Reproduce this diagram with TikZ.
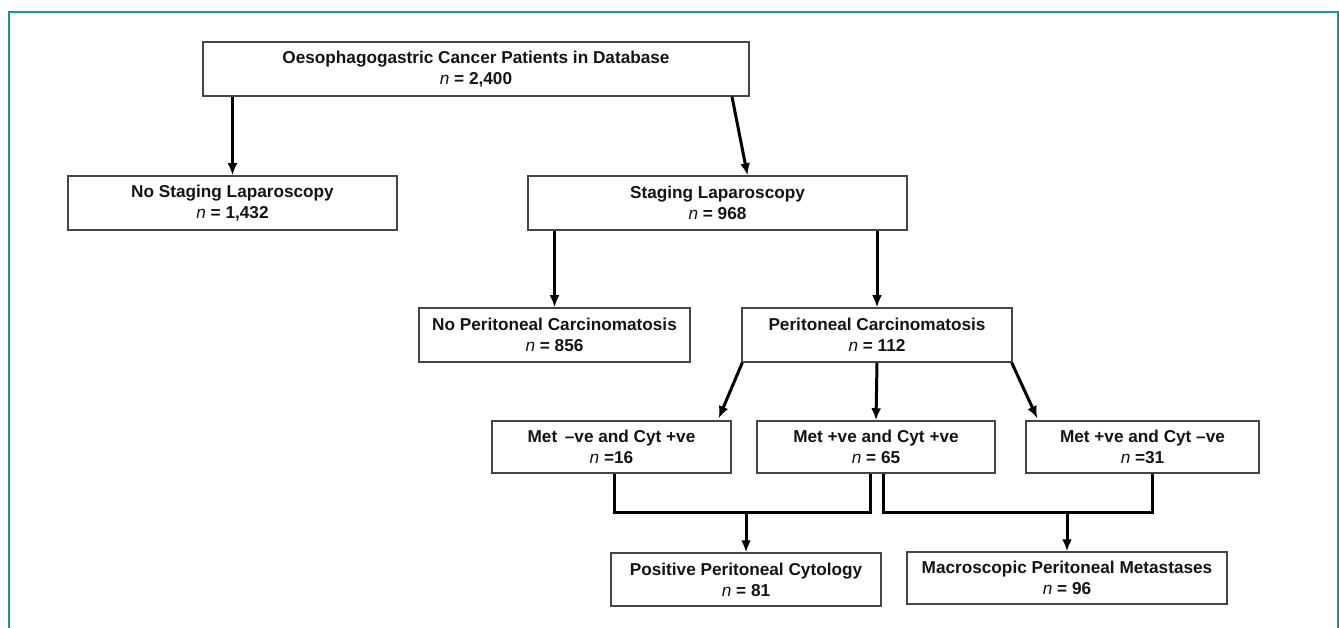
\documentclass[tikz,border=0pt]{standalone}
\usepackage{fontspec}
\setmainfont{Liberation Sans}
\usetikzlibrary{arrows.meta}
\usetikzlibrary{calc}
\tikzset{box/.style = {draw=mgrey, line width=1.5pt, fill=white, align=center,
                       inner sep=0, text=mink,
                       font=\bfseries\fontsize{17.2}{21}\selectfont}}
\tikzset{link/.style = {line width=3pt, line join=miter}}
\tikzset{arr/.style = {link, -{Latex[length=12pt, width=10pt]}}}
\definecolor{mteal}{rgb}{0.10, 0.60, 0.52}
\definecolor{mgrey}{rgb}{0.27, 0.27, 0.27}
\definecolor{mink}{rgb}{0.08, 0.08, 0.08}
\newcommand{\nn}{{\mdseries\itshape n}}

\begin{document}
\begin{tikzpicture}[x=1pt, y=-1pt]
    \useasboundingbox (0, 0) rectangle (1339, 628);
    \draw [mteal, line width=2pt] (8.5, 628) -- (8.5, 12.5) -- (1337.5, 12.5) -- (1337.5, 628);

    % boxes
    \node [box, minimum width=546pt, minimum height=54pt] (db) at (476, 69)
      {Oesophagogastric Cancer Patients in Database\\ \nn{} = 2,400};
    \node [box, minimum width=329pt, minimum height=54pt] (nosl) at (232.5, 203)
      {No Staging Laparoscopy\\ \nn{} = 1,432};
    \node [box, minimum width=379pt, minimum height=54pt] (sl) at (717.5, 203)
      {Staging Laparoscopy\\ \nn{} = 968};
    \node [box, minimum width=271pt, minimum height=54pt] (nopc) at (554.5, 335)
      {No Peritoneal Carcinomatosis\\ \nn{} = 856};
    \node [box, minimum width=270pt, minimum height=54pt] (pc) at (877, 335)
      {Peritoneal Carcinomatosis\\ \nn{} = 112};
    \node [box, minimum width=239pt, minimum height=52pt] (mneg) at (611.5, 447)
      {Met \,--ve and Cyt +ve\\ \nn{} =16};
    \node [box, minimum width=238pt, minimum height=52pt] (mboth) at (876, 447)
      {Met +ve and Cyt +ve\\ \nn{} = 65};
    \node [box, minimum width=233pt, minimum height=52pt] (cneg) at (1142.5, 447)
      {Met +ve and Cyt --ve\\ \nn{} =31};
    \node [box, minimum width=270pt, minimum height=53pt] (ppc) at (746, 579.5)
      {Positive Peritoneal Cytology\\ \nn{} = 81};
    \node [box, minimum width=320pt, minimum height=52pt] (mpm) at (1067, 578)
      {Macroscopic Peritoneal Metastases\\ \nn{} = 96};

    % arrows
    \draw [arr] (db.south -| nosl.north) -- (nosl.north);
    \draw [arr] ($(db.south)+(256, 0)$) -- ($(sl.north)+(30, 0)$);
    \draw [arr] (sl.south -| nopc.north) -- (nopc.north);
    \draw [arr] (sl.south -| pc.north) -- (pc.north);
    \draw [arr] ($(pc.south west)+(1, 0)$) -- ($(mneg.north east)+(-13, -2)$);
    \draw [arr] (pc.south) -- (mboth.north);
    \draw [arr] ($(pc.south east)+(-1, 0)$) -- ($(cneg.north west)+(12, -2)$);

    % joins
    \coordinate (jcyt) at (746, 512);
    \coordinate (jmet) at (1067, 512);
    \draw [link] ($(mneg.south)+(3, 0)$) |- (jcyt) -| ($(mboth.south)+(-6, 0)$);
    \draw [arr] (jcyt) -- (ppc.north);
    \draw [link] ($(mboth.south)+(7, 0)$) |- (jmet) -| ($(cneg.south)+(10, 0)$);
    \draw [arr] (jmet) -- (mpm.north);
\end{tikzpicture}
\end{document}
